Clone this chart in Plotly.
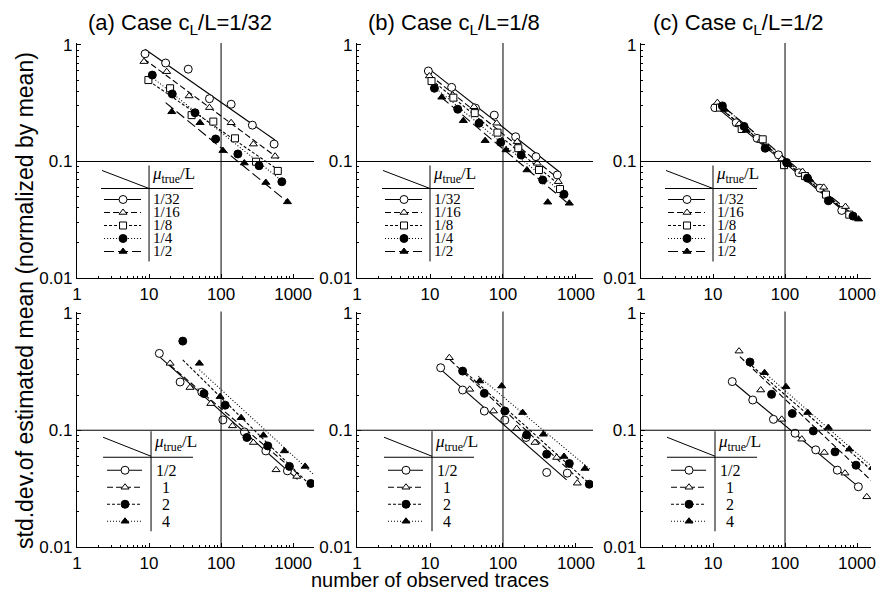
import plotly.graph_objects as go

# The page body has an 8px margin, so the figure is sized to fit the 886x600 window.
PAGE_OFF = 8
W, H = 886 - PAGE_OFF, 600 - PAGE_OFF

# ---------------- text ----------------
TOP_KEYS = ["1/32", "1/16", "1/8", "1/4", "1/2"]
BOT_KEYS = ["1/2", "1", "2", "4"]
TITLES = ["(a) Case c<sub>L</sub>/L=1/32", "(b) Case c<sub>L</sub>/L=1/8", "(c) Case c<sub>L</sub>/L=1/2"]
X_TICKS = [1, 10, 100, 1000]
X_TICK_TEXT = ["1", "10", "100", "1000"]
Y_TICKS = [0.01, 0.1, 1]
Y_TICK_TEXT = ["0.01", "0.1", "1"]
X_TITLE = "number of observed traces"
Y_TITLE = "std.dev.of estimated mean (normalized by mean)"
LEG_HEADER = "<i>μ</i><sub>true</sub>/L"

# ---------------- data ----------------
# (a) top, c_L/L = 1/32 ; series mu_true/L = 1/32,1/16,1/8,1/4,1/2
a_top_n = [[8.8, 17, 35, 69, 138, 272, 545],
           [8.5, 17.6, 36, 69, 138, 281, 562],
           [9.8, 19.6, 39, 78, 156, 306, 613],
           [11.1, 21, 43.5, 84, 171, 337, 697],
           [20.7, 51, 106, 210, 418, 835]]
a_top_sd = [[0.84, 0.70, 0.62, 0.346, 0.31, 0.205, 0.141],
            [0.72, 0.59, 0.365, 0.29, 0.215, 0.141, 0.111],
            [0.50, 0.425, 0.25, 0.22, 0.158, 0.0996, 0.083],
            [0.552, 0.38, 0.262, 0.156, 0.116, 0.092, 0.067],
            [0.267, 0.215, 0.124, 0.097, 0.066, 0.045]]
a_top_fit_n = [[8.8, 560], [8.5, 625], [10, 625], [11.4, 770], [17, 835]]
a_top_fit_sd = [[0.92, 0.153], [0.76, 0.106], [0.49, 0.0845], [0.52, 0.065], [0.32, 0.045]]

# (b) top, c_L/L = 1/8
b_top_n = [[9.5, 19.8, 42, 76, 149, 283, 555],
           [9.8, 20.5, 40, 82, 157, 295, 572],
           [10.5, 20.9, 41, 84, 162, 311, 604],
           [11.5, 24, 47, 93, 177, 350, 685],
           [14.5, 28.6, 57, 110, 213, 410, 810]]
b_top_sd = [[0.598, 0.433, 0.287, 0.25, 0.163, 0.11, 0.0766],
            [0.542, 0.372, 0.295, 0.213, 0.148, 0.0965, 0.0671],
            [0.49, 0.353, 0.26, 0.177, 0.13, 0.0845, 0.058],
            [0.425, 0.281, 0.213, 0.146, 0.1136, 0.0694, 0.0523],
            [0.356, 0.224, 0.151, 0.1256, 0.0845, 0.0447, 0.0438]]
b_top_fit_n = [[9.5, 590], [10, 604], [10.6, 643], [11.4, 706], [14.1, 828]]
b_top_fit_sd = [[0.63, 0.0817], [0.552, 0.0694], [0.50, 0.0604], [0.436, 0.0515], [0.358, 0.0423]]

# (c) top, c_L/L = 1/2
c_top_n = [[10.6, 21, 41, 81, 156, 306, 613],
           [11.5, 23, 46, 90, 175, 345, 690],
           [12.5, 25, 49, 97, 190, 370, 780],
           [13.5, 27, 53, 105, 205, 400, 880],
           [14.5, 29, 57, 112, 220, 430, 1050]]
c_top_sd = [[0.29, 0.215, 0.158, 0.114, 0.08, 0.059, 0.038],
            [0.32, 0.21, 0.152, 0.105, 0.082, 0.06, 0.041],
            [0.29, 0.19, 0.155, 0.093, 0.075, 0.052, 0.035],
            [0.30, 0.20, 0.13, 0.098, 0.072, 0.046, 0.034],
            [0.28, 0.185, 0.13, 0.094, 0.07, 0.047, 0.032]]
c_top_fit_n = [[10.6, 640], [11.5, 700], [12.5, 800], [13.5, 900], [14.5, 1070]]
c_top_fit_sd = [[0.30, 0.038], [0.30, 0.037], [0.29, 0.035], [0.30, 0.033], [0.29, 0.0315]]

# (a) bottom ; series mu_true/L = 1/2, 1, 2, 4
a_bot_n = [[13.9, 27, 54, 106, 211, 418, 834],
           [19.6, 37, 72, 144, 281, 580, 1125],
           [29.4, 58, 114, 228, 445, 889, 1762],
           [50, 97, 190, 387, 757, 1468]]
a_bot_sd = [[0.455, 0.259, 0.212, 0.1225, 0.0967, 0.0665, 0.0449],
            [0.374, 0.232, 0.169, 0.109, 0.0785, 0.0458, 0.0402],
            [0.58, 0.206, 0.164, 0.0867, 0.0734, 0.049, 0.035],
            [0.374, 0.194, 0.128, 0.0906, 0.0665, 0.049]]
a_bot_fit_n = [[13.9, 1150], [19.6, 1300], [29.4, 1800], [50, 1900]]
a_bot_fit_sd = [[0.427, 0.038], [0.36, 0.040], [0.40, 0.033], [0.33, 0.042]]

# (b) bottom
b_bot_n = [[14, 28, 55.5, 106, 207, 397, 760],
           [18.4, 35, 74, 154, 274, 544, 1042],
           [28, 55.5, 106, 211, 397, 810, 1520],
           [48, 96, 186, 357, 685, 1328]]
b_bot_sd = [[0.343, 0.221, 0.146, 0.122, 0.0867, 0.0435, 0.0429],
            [0.418, 0.224, 0.146, 0.1034, 0.0785, 0.0584, 0.0352],
            [0.321, 0.207, 0.146, 0.0912, 0.0624, 0.0519, 0.0345],
            [0.264, 0.239, 0.1416, 0.0924, 0.0596, 0.047]]
b_bot_fit_n = [[14, 745], [18.8, 1100], [28, 1600], [46, 1550]]
b_bot_fit_sd = [[0.332, 0.0376], [0.40, 0.038], [0.33, 0.034], [0.291, 0.0464]]

# (c) bottom
c_bot_n = [[18.5, 35.6, 69, 138, 267, 532, 1043],
           [23, 46, 90, 171, 351, 681, 1365],
           [32.6, 65, 126, 247, 495, 968],
           [52, 103, 207, 400, 782, 1650]]
c_bot_sd = [[0.261, 0.1815, 0.124, 0.0943, 0.0679, 0.0455, 0.0328],
            [0.476, 0.221, 0.124, 0.0838, 0.0645, 0.0429, 0.0269],
            [0.384, 0.203, 0.139, 0.0987, 0.0653, 0.0502],
            [0.311, 0.236, 0.1416, 0.1055, 0.0688, 0.048]]
c_bot_fit_n = [[18.2, 1070], [23.6, 1680], [30.8, 1780], [49, 1780]]
c_bot_fit_sd = [[0.264, 0.0324], [0.427, 0.0357], [0.379, 0.0428], [0.321, 0.0464]]

PANELS = [
    (a_top_n, a_top_sd, a_top_fit_n, a_top_fit_sd, TOP_KEYS),
    (b_top_n, b_top_sd, b_top_fit_n, b_top_fit_sd, TOP_KEYS),
    (c_top_n, c_top_sd, c_top_fit_n, c_top_fit_sd, TOP_KEYS),
    (a_bot_n, a_bot_sd, a_bot_fit_n, a_bot_fit_sd, BOT_KEYS),
    (b_bot_n, b_bot_sd, b_bot_fit_n, b_bot_fit_sd, BOT_KEYS),
    (c_bot_n, c_bot_sd, c_bot_fit_n, c_bot_fit_sd, BOT_KEYS),
]

# ---------------- styles ----------------
OC = dict(symbol="circle", size=8, color="white", line=dict(color="black", width=1))
OT = dict(symbol="triangle-up", size=7, color="white", line=dict(color="black", width=1))
OS = dict(symbol="square", size=7, color="white", line=dict(color="black", width=1))
FC = dict(symbol="circle", size=8, color="black", line=dict(color="black", width=1))
FT = dict(symbol="triangle-up", size=7, color="black", line=dict(color="black", width=1))
TOP_MARKERS = [OC, OT, OS, FC, FT]
TOP_DASH = ["solid", "6px,3px", "3px,2px", "1px,2px", "10px,4px"]
BOT_MARKERS = [OC, OT, FC, FT]
BOT_DASH = ["solid", "6px,3px", "3px,2px", "1px,2px"]

SANS = "Liberation Sans, Arial, Helvetica, sans-serif"
SERIF = "Liberation Serif, Times New Roman, serif"

# window-pixel layout of panels (left px, right px, log10 x max)
COLS = [(77, 314, 3.29), (357, 593, 3.233), (641, 871, 3.194)]
ROWS = [(43, 278), (311.5, 547)]
Y_RANGE = [-2, 0.017]


def fx(px):
    return (px - PAGE_OFF) / W


def fy(py):
    return 1 - (py - PAGE_OFF) / H


fig = go.Figure()
layout = dict(
    width=W, height=H, autosize=False,
    margin=dict(l=0, r=0, t=0, b=0, pad=0),
    paper_bgcolor="white", plot_bgcolor="rgba(0,0,0,0)",
    showlegend=False, template="none",
    font=dict(family=SANS, color="black"),
)
shapes = []
annotations = []

minor_x = [v * m for m in (1, 10, 100, 1000) for v in range(2, 10) if v * m < 2000]
minor_y = [v * m for m in (0.01, 0.1) for v in range(2, 10)]

for p, (ns, sds, fns, fsds, keys) in enumerate(PANELS):
    k = p + 1
    row, col = divmod(p, 3)
    left, right, xmax = COLS[col]
    top, bot = ROWS[row]
    xs = "" if k == 1 else str(k)
    layout["xaxis" + xs] = dict(
        domain=[fx(left), fx(right)], range=[0, xmax], type="log", anchor="y" + xs,
        showline=True, linecolor="black", linewidth=1.3, showgrid=False, zeroline=False,
        tickmode="array", tickvals=X_TICKS, ticktext=X_TICK_TEXT, ticks="inside", ticklen=4,
        tickcolor="black", tickfont=dict(size=17, family=SANS, color="black"),
        minor=dict(tickmode="array", tickvals=minor_x, ticks="inside", ticklen=2, tickcolor="black"),
        fixedrange=True,
    )
    layout["yaxis" + xs] = dict(
        domain=[fy(bot), fy(top)], range=Y_RANGE, type="log", anchor="x" + xs,
        showline=True, linecolor="black", linewidth=1.3, showgrid=False, zeroline=False,
        tickmode="array", tickvals=Y_TICKS, ticktext=Y_TICK_TEXT, ticks="inside", ticklen=4,
        tickcolor="black", tickfont=dict(size=17, family=SANS, color="black"),
        minor=dict(tickmode="array", tickvals=minor_y, ticks="inside", ticklen=2, tickcolor="black"),
        fixedrange=True,
    )
    xr, yr = "x" + xs, "y" + xs
    # crosshair lines at N=100 and sd=0.1 (data values)
    shapes.append(dict(type="line", xref=xr, yref=yr + " domain", x0=100, x1=100, y0=0, y1=1,
                       line=dict(color="black", width=1)))
    shapes.append(dict(type="line", xref=xr + " domain", yref=yr, x0=0, x1=1, y0=0.1, y1=0.1,
                       line=dict(color="black", width=1)))
    markers = TOP_MARKERS if row == 0 else BOT_MARKERS
    dashes = TOP_DASH if row == 0 else BOT_DASH
    for i in range(len(ns)):
        fig.add_trace(go.Scatter(x=fns[i], y=fsds[i], mode="lines", xaxis=xr, yaxis=yr,
                                 line=dict(color="black", width=1.1, dash=dashes[i]),
                                 hoverinfo="skip", showlegend=False))
    for i in range(len(ns)):
        fig.add_trace(go.Scatter(x=ns[i], y=sds[i], mode="markers", xaxis=xr, yaxis=yr,
                                 marker=markers[i], showlegend=False, name=keys[i]))

    # ---- legend table (window-pixel coordinates on overlay axis) ----
    vx = left + (right - left) / xmax          # pixel of N = 10
    y01 = bot - (bot - top) / (Y_RANGE[1] - Y_RANGE[0])  # pixel of sd = 0.1
    if row == 0:
        diag = (vx - 47, y01 + 9, vx, y01 + 27)
        hl = (vx - 48, vx + 44, y01 + 27)
        vl = (vx, y01 + 4, y01 + 100)
        head = (vx + 1, y01 + 14)
        row_y = [y01 + 38 + 13 * i for i in range(len(keys))]
        lab_x, lab_anchor, lab_size = vx + 2, "left", 15
        samp = (vx - 45, vx - 8, vx - 26)
    else:
        diag = (vx - 46, y01 + 7, vx + 2, y01 + 26)
        hl = (vx - 46, vx + 44, y01 + 27)
        vl = (vx + 2, y01 + 1, y01 + 101)
        head = (vx + 3, y01 + 13)
        row_y = [y01 + 40 + 17 * i for i in range(len(keys))]
        lab_x, lab_anchor, lab_size = vx + 17, "center", 16
        samp = (vx - 42, vx - 7, vx - 24)
    shapes.append(dict(type="line", xref="x7", yref="y7", x0=diag[0], y0=diag[1], x1=diag[2], y1=diag[3],
                       line=dict(color="black", width=1)))
    shapes.append(dict(type="line", xref="x7", yref="y7", x0=hl[0], x1=hl[1], y0=hl[2], y1=hl[2],
                       line=dict(color="black", width=1.2)))
    shapes.append(dict(type="line", xref="x7", yref="y7", x0=vl[0], x1=vl[0], y0=vl[1], y1=vl[2],
                       line=dict(color="black", width=1)))
    annotations.append(dict(xref="x7", yref="y7", x=head[0], y=head[1], text=LEG_HEADER,
                            showarrow=False, xanchor="left", yanchor="middle",
                            font=dict(family=SERIF, size=17, color="black")))
    for i, key in enumerate(keys):
        ry = row_y[i]
        fig.add_trace(go.Scatter(x=[samp[0], samp[1]], y=[ry, ry], mode="lines", xaxis="x7", yaxis="y7",
                                 line=dict(color="black", width=1.1, dash=dashes[i]),
                                 hoverinfo="skip", showlegend=False))
        fig.add_trace(go.Scatter(x=[samp[2]], y=[ry], mode="markers", xaxis="x7", yaxis="y7",
                                 marker=markers[i], hoverinfo="skip", showlegend=False))
        annotations.append(dict(xref="x7", yref="y7", x=lab_x, y=ry, text=key, showarrow=False,
                                xanchor=lab_anchor, yanchor="middle",
                                font=dict(family=SERIF, size=lab_size, color="black")))

# overlay axis in window pixels (for legend tables & titles)
layout["xaxis7"] = dict(domain=[0, 1], range=[PAGE_OFF, PAGE_OFF + W], visible=False, anchor="y7", fixedrange=True)
layout["yaxis7"] = dict(domain=[0, 1], range=[PAGE_OFF + H, PAGE_OFF], visible=False, anchor="x7", fixedrange=True)

TITLE_X = [180, 454, 738]
for t, tx in zip(TITLES, TITLE_X):
    annotations.append(dict(xref="x7", yref="y7", x=tx, y=24, text=t, showarrow=False,
                            xanchor="center", yanchor="middle",
                            font=dict(family=SANS, size=22, color="black")))
annotations.append(dict(xref="x7", yref="y7", x=430, y=580, text=X_TITLE, showarrow=False,
                        xanchor="center", yanchor="middle", font=dict(family=SANS, size=20, color="black")))
annotations.append(dict(xref="x7", yref="y7", x=25, y=301, text=Y_TITLE, showarrow=False, textangle=-90,
                        xanchor="center", yanchor="middle", font=dict(family=SANS, size=23, color="black")))

layout["shapes"] = shapes
layout["annotations"] = annotations
fig.update_layout(**layout)
fig.write_html("out.html")
